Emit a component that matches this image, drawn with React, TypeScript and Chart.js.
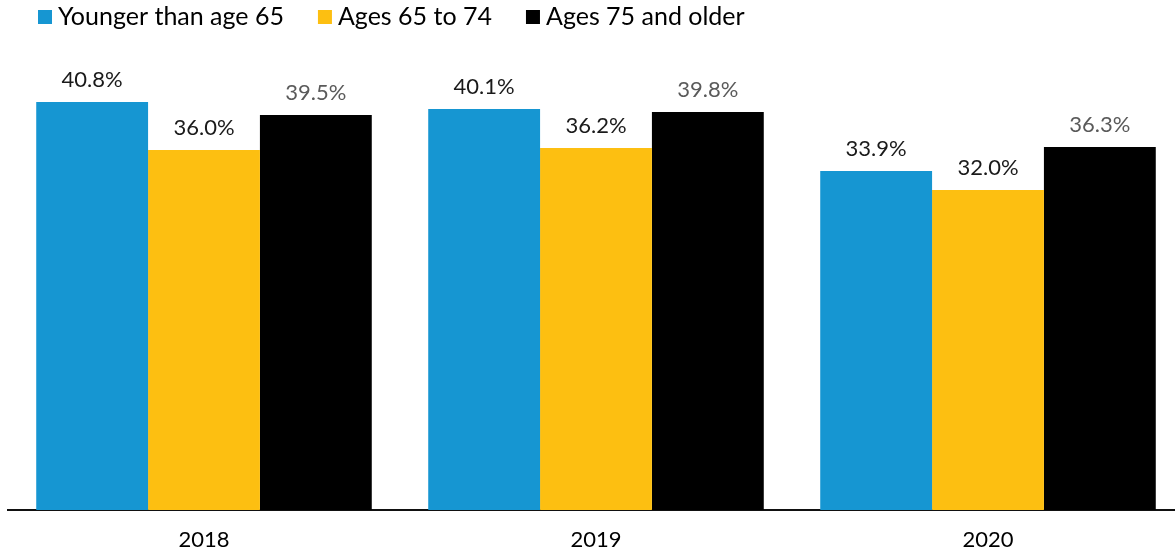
import React, { useEffect, useRef } from "react";
import { Chart, registerables } from "chart.js";

Chart.register(...registerables);

const categories = ["2018", "2019", "2020"];
const seriesNames = ["Younger than age 65", "Ages 65 to 74", "Ages 75 and older"];
const younger = [40.8, 40.1, 33.9];
const ages65to74 = [36.0, 36.2, 32.0];
const ages75plus = [39.5, 39.8, 36.3];
const colors = ["#1696d2", "#fdbf11", "#000000"];
const labelColors = ["#1a1a1a", "#1a1a1a", "#5a5a5a"];

const FONT = "Lato, 'Open Sans', sans-serif";

const legendPlugin = {
  id: "customLegend",
  afterDraw(chart: any) {
    const ctx = chart.ctx;
    ctx.save();
    ctx.font = `25px ${FONT}`;
    ctx.textBaseline = "alphabetic";
    ctx.textAlign = "left";
    let x = 38;
    seriesNames.forEach((name, i) => {
      ctx.fillStyle = colors[i];
      ctx.fillRect(x, 10, 14, 14);
      ctx.fillStyle = "#000";
      ctx.fillText(name, x + 20, 25);
      x += 20 + ctx.measureText(name).width + 34;
    });
    ctx.restore();
  },
};

const valueLabelPlugin = {
  id: "valueLabels",
  afterDatasetsDraw(chart: any) {
    const ctx = chart.ctx;
    ctx.save();
    ctx.font = `22px ${FONT}`;
    ctx.textAlign = "center";
    ctx.textBaseline = "alphabetic";
    chart.data.datasets.forEach((ds: any, di: number) => {
      const meta = chart.getDatasetMeta(di);
      meta.data.forEach((bar: any, i: number) => {
        ctx.fillStyle = labelColors[di];
        ctx.fillText(ds.data[i].toFixed(1) + "%", bar.x, bar.y - 15);
      });
    });
    ctx.restore();
  },
};

export default function App() {
  const ref = useRef<HTMLCanvasElement>(null);

  useEffect(() => {
    document.body.style.margin = "0";
    const canvas = ref.current!;
    const chart = new Chart(canvas, {
      type: "bar",
      data: {
        labels: categories,
        datasets: [younger, ages65to74, ages75plus].map((d, i) => ({
          label: seriesNames[i],
          data: d,
          backgroundColor: colors[i],
          borderWidth: 0,
          barPercentage: 1,
          categoryPercentage: 0.856,
        })),
      },
      options: {
        animation: false,
        responsive: false,
        devicePixelRatio: 1,
        layout: { padding: { top: 60, left: 8, right: 0, bottom: 0 } },
        plugins: {
          legend: { display: false },
          tooltip: { enabled: false },
        },
        scales: {
          x: {
            grid: { display: false, drawTicks: false },
            border: { display: true, color: "#111", width: 2 },
            ticks: {
              color: "#000",
              font: { family: FONT, size: 22 },
              padding: 17,
            },
            afterFit(scale: any) {
              scale.height = 46;
            },
          },
          y: {
            display: false,
            min: 0,
            max: 45,
          },
        },
      },
      plugins: [legendPlugin, valueLabelPlugin],
    });
    return () => chart.destroy();
  }, []);

  return (
    <div style={{ position: "absolute", left: 0, top: 0, width: 1175, height: 556, overflow: "hidden", background: "#fff" }}>
      <canvas ref={ref} width={1184} height={556} style={{ width: 1184, height: 556, display: "block" }} />
    </div>
  );
}
